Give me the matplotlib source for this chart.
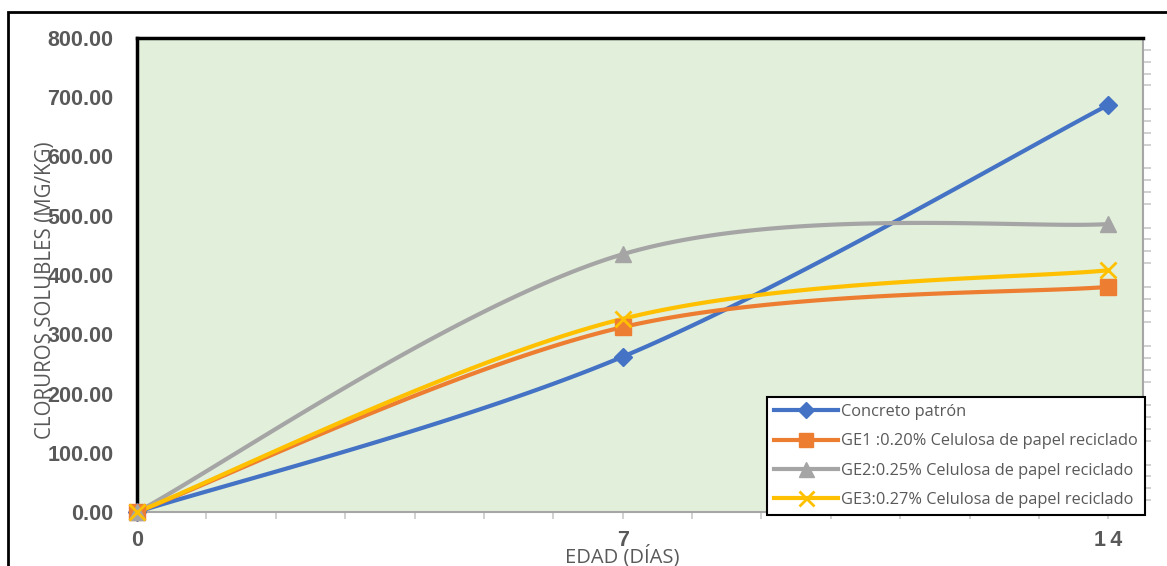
import numpy as np
import matplotlib
matplotlib.use("Agg")
import matplotlib.pyplot as plt
from matplotlib.patches import Rectangle
from matplotlib.ticker import MultipleLocator, FixedLocator

# Data: age in days and soluble chlorides (mg/kg)
dias = [0, 7, 14]
concreto_patron = [0.0, 262.0, 687.0]
ge1 = [0.0, 312.0, 380.0]
ge2 = [0.0, 435.0, 486.0]
ge3 = [0.0, 326.0, 408.0]

series_names = [
    "Concreto patrón",
    "GE1 :0.20% Celulosa de papel reciclado",
    "GE2:0.25% Celulosa de papel reciclado",
    "GE3:0.27% Celulosa de papel reciclado",
]
y_ticks = [0, 100, 200, 300, 400, 500, 600, 700, 800]
x_ticks = [0, 7, 14]


def smooth_curve(xs, ys, n=60):
    """Spreadsheet-style smoothed line: cubic Bezier segments through the points."""
    p = np.column_stack([xs, ys]).astype(float)
    m = len(p)
    out = []
    for i in range(m - 1):
        p0 = p[i]
        p1 = p[i + 1]
        prev = p[i - 1] if i > 0 else p[i]
        nxt = p[i + 2] if i + 2 < m else p[i + 1]
        c1 = p0 + (p1 - prev) / 6.0
        c2 = p1 - (nxt - p0) / 6.0
        t = np.linspace(0, 1, n)[:, None]
        seg = ((1 - t) ** 3) * p0 + 3 * ((1 - t) ** 2) * t * c1 + 3 * (1 - t) * t ** 2 * c2 + t ** 3 * p1
        out.append(seg if i == 0 else seg[1:])
    c = np.vstack(out)
    return c[:, 0], c[:, 1]


W, H = 1167, 566
fig = plt.figure(figsize=(W / 100, H / 100), dpi=100)
fig.patch.set_facecolor("white")

# outer chart frame (left and top edges visible)
fig.add_artist(Rectangle((8 / W, -0.2), 1.3, (H - 12) / H + 0.2, transform=fig.transFigure,
                         fill=False, edgecolor="black", linewidth=2.0))

ax = fig.add_axes([137 / W, 1 - 512 / H, (1143 - 137) / W, (512 - 38) / H])
ax.set_facecolor("#E2EFDA")
ax.set_xlim(0, 14.5)
ax.set_ylim(0, 800)

text_gray = "#595959"
lw = 3.0
styles = [
    (concreto_patron, "#4472C4", "D", 9, {}),
    (ge1, "#ED7D31", "s", 11, {}),
    (ge2, "#A5A5A5", "^", 12, {}),
    (ge3, "#FFC000", "x", 12, {"markeredgewidth": 2.0}),
]

handles = []
for (vals, color, mk, ms, extra), name in zip(styles, series_names):
    sx, sy = smooth_curve(dias, vals)
    ax.plot(sx, sy, color=color, linewidth=lw, solid_capstyle="round", zorder=3, clip_on=False)
    ax.plot(dias, vals, linestyle="none", marker=mk, markersize=ms, color=color,
            markeredgecolor=color, zorder=4, clip_on=False, **extra)
    h, = ax.plot([], [], color=color, linewidth=lw, marker=mk, markersize=ms * 0.9,
                 markeredgecolor=color, **extra)
    handles.append(h)

# axes styling
for side in ["left", "top"]:
    ax.spines[side].set_color("black")
    ax.spines[side].set_linewidth(2.5)
for side in ["bottom", "right"]:
    ax.spines[side].set_color("#A6A6A6")
    ax.spines[side].set_linewidth(1.5)

ax.yaxis.set_major_locator(FixedLocator(y_ticks))
ax.set_yticklabels([f"{v:.2f}" for v in y_ticks])
ax.tick_params(axis="y", which="major", length=0, pad=17,
               labelsize=15.5, labelcolor=text_gray)
ax.yaxis.set_minor_locator(MultipleLocator(20))
ax.tick_params(axis="y", which="minor", left=False, right=True, direction="out",
               length=6, width=1.2, color="#C8C8C8")

ax.xaxis.set_major_locator(FixedLocator(x_ticks))
ax.set_xticklabels(["0", "7", "1\u20094"])
ax.xaxis.set_minor_locator(MultipleLocator(1))
ax.tick_params(axis="x", which="major", direction="out", length=5, width=1.2,
               color="#C8C8C8", pad=8, labelsize=15.5, labelcolor=text_gray)
ax.tick_params(axis="x", which="minor", direction="out", length=5, width=1.2, color="#C8C8C8")

for lab in ax.get_yticklabels() + ax.get_xticklabels():
    lab.set_fontweight("bold")
    lab.set_family("Liberation Sans")

fig.text(622 / W, 1 - 556 / H, "EDAD (DÍAS)", ha="center", va="center",
         fontsize=14.5, color=text_gray, family="Open Sans")
fig.text(46 / W, 1 - 290 / H, "CLORUROS SOLUBLES (MG/KG)", ha="center", va="center",
         rotation=90, fontsize=14.8, color=text_gray, family="Open Sans")

leg = ax.legend(handles, series_names, loc="lower left",
                bbox_to_anchor=(767 / W, 1 - 515 / H, (1145 - 767) / W, (515 - 397) / H),
                bbox_transform=fig.transFigure, mode="expand",
                frameon=True, fancybox=False, shadow=False, framealpha=1,
                handlelength=3.9, handletextpad=0.2, borderpad=0.42, labelspacing=0.82,
                prop={"family": "Open Sans", "size": 11.8}, borderaxespad=0)
leg.get_frame().set_edgecolor("black")
leg.get_frame().set_linewidth(1.5)
for t in leg.get_texts():
    t.set_color(text_gray)
leg.set_zorder(10)

fig.savefig("out.png", dpi=100, facecolor="white")
